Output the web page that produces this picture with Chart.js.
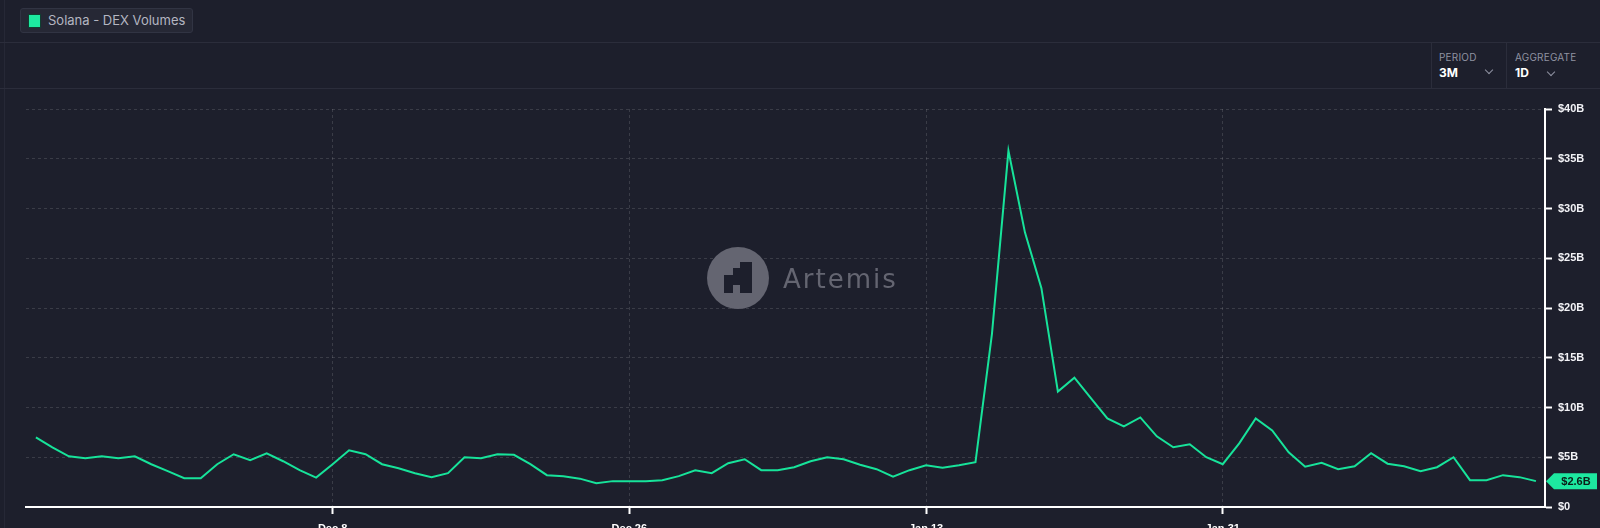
<!DOCTYPE html>
<html>
<head>
<meta charset="utf-8">
<script src="https://cdn.jsdelivr.net/npm/chart.js@4.4.1/dist/chart.umd.min.js"></script>
<style>
  html, body { margin: 0; padding: 0; background: #1d1f2c; }
  body { width: 1600px; height: 528px; position: relative; overflow: hidden; font-family: "Inter", "Liberation Sans", sans-serif; }
  .hline { position: absolute; left: 0; width: 1600px; height: 1px; background: #2b2d3b; }
  .vline { position: absolute; width: 1px; background: #2b2d3b; }
  .legend { position: absolute; left: 20px; top: 8px; width: 171px; height: 23px; background: #262835; border: 1px solid #313443; border-radius: 3px; }
  .legend .sw { position: absolute; left: 7px; top: 5px; width: 11px; height: 12px; background: #1de9a0; border: 1px solid #0f3f31; }
  .legend .tx { position: absolute; left: 27px; top: 3px; font-size: 13px; color: #b4b6c1; white-space: nowrap; }
  .ctl-label { position: absolute; font-size: 10px; color: #8f92a1; letter-spacing: 0.2px; }
  .ctl-value { position: absolute; font-size: 12px; font-weight: 700; color: #ffffff; }
  .chev { position: absolute; width: 5px; height: 5px; border-right: 1.5px solid #8f92a1; border-bottom: 1.5px solid #8f92a1; transform: rotate(45deg); }
  #wrap { position: absolute; left: 0; top: 88px; width: 1600px; height: 440px; }
</style>
</head>
<body>
<div class="vline" style="left:4px;top:0;height:528px;background:#262836"></div>
<div class="hline" style="top:42px"></div>
<div class="hline" style="top:88px"></div>
<div class="vline" style="left:1431px;top:42px;height:46px"></div>
<div class="vline" style="left:1506px;top:42px;height:46px"></div>

<div class="legend"><div class="sw"></div><div class="tx">Solana - DEX Volumes</div></div>

<div class="ctl-label" style="left:1439px;top:51px">PERIOD</div>
<div class="ctl-value" style="left:1439px;top:65px">3M</div>
<div class="chev" style="left:1486px;top:67px"></div>
<div class="ctl-label" style="left:1515px;top:51px">AGGREGATE</div>
<div class="ctl-value" style="left:1515px;top:65px">1D</div>
<div class="chev" style="left:1548px;top:69px"></div>

<div id="wrap"><canvas id="chart"></canvas></div>

<script>
// daily Solana DEX volume, $B, Nov 20 2024 -> Feb 19 2025
const firstDay = "2024-11-20";
const volumes = [
  7.0, 6.0, 5.1, 4.9, 5.1, 4.9, 5.1, 4.3, 3.6, 2.9,
  2.9, 4.3, 5.3, 4.7, 5.4, 4.6, 3.7, 2.95, 4.3, 5.7,
  5.3, 4.3, 3.9, 3.4, 3.0, 3.4, 5.0, 4.9, 5.3, 5.25,
  4.3, 3.2, 3.1, 2.85, 2.4, 2.6, 2.6, 2.6, 2.7, 3.1,
  3.7, 3.4, 4.4, 4.8, 3.7, 3.7, 4.0, 4.6, 5.0, 4.8,
  4.25, 3.8, 3.05, 3.7, 4.2, 3.95, 4.2, 4.5, 17.4, 35.8,
  27.6, 22.0, 11.6, 13.0, 10.95, 8.9, 8.1, 9.0, 7.1, 6.0,
  6.3, 5.0, 4.3, 6.4, 8.9, 7.7, 5.5, 4.05, 4.45, 3.8,
  4.1, 5.4, 4.35, 4.1, 3.6, 4.0, 5.0, 2.7, 2.7, 3.2,
  3.0, 2.6
];
const tickDays = [18, 36, 54, 72];
const tickLabels = ["Dec 8", "Dec 26", "Jan 13", "Jan 31"];
const yTicks = [0, 5, 10, 15, 20, 25, 30, 35, 40];

const lineColor = "#17e39a";

const points = volumes.map((v, i) => ({ x: i, y: v }));

// watermark + last value tag
const extras = {
  id: "extras",
  beforeDatasetsDraw(chart) {
    const ctx = chart.ctx;
    const cx = 738, cy = 278 - 88;
    ctx.save();
    ctx.fillStyle = "#646571";
    ctx.beginPath();
    ctx.arc(cx, cy, 31, 0, Math.PI * 2);
    ctx.fill();
    ctx.fillStyle = "#1d1f2c";
    ctx.fillRect(cx - 14, cy - 3, 28, 10);
    ctx.fillRect(cx - 14, cy + 7, 9, 8);
    ctx.fillRect(cx + 2, cy - 16, 12, 31);
    ctx.fillRect(cx - 5, cy - 10, 7, 7);
    ctx.fillStyle = "#646571";
    ctx.font = "26px 'DejaVu Sans', sans-serif";
    ctx.textBaseline = "alphabetic";
    if (ctx.letterSpacing !== undefined) ctx.letterSpacing = "2px";
    ctx.fillText("Artemis", 783, 288 - 88);
    ctx.restore();
  },
  afterDraw(chart) {
    const ctx = chart.ctx;
    const y = chart.scales.y.getPixelForValue(volumes[volumes.length - 1]);
    const x0 = chart.chartArea.right + 1;
    ctx.save();
    ctx.fillStyle = "#1de9a0";
    ctx.beginPath();
    ctx.moveTo(x0, y);
    ctx.lineTo(x0 + 8, y - 8);
    ctx.lineTo(x0 + 51, y - 8);
    ctx.lineTo(x0 + 51, y + 8);
    ctx.lineTo(x0 + 8, y + 8);
    ctx.closePath();
    ctx.fill();
    ctx.fillStyle = "#0c1f18";
    ctx.font = "bold 11px 'Liberation Sans', sans-serif";
    ctx.textAlign = "center";
    ctx.textBaseline = "middle";
    ctx.fillText("$" + volumes[volumes.length - 1] + "B", x0 + 30, y + 1);
    ctx.restore();
  }
};

new Chart(document.getElementById("chart"), {
  type: "line",
  data: {
    datasets: [{
      label: "Solana - DEX Volumes",
      data: points,
      borderColor: lineColor,
      borderWidth: 2,
      pointRadius: 0,
      tension: 0,
      fill: false
    }]
  },
  options: {
    responsive: true,
    maintainAspectRatio: false,
    animation: false,
    layout: { padding: { left: 26, top: 21, right: 0, bottom: 0 } },
    plugins: { legend: { display: false }, tooltip: { enabled: false } },
    scales: {
      x: {
        type: "linear",
        min: -0.6,
        max: 91.55,
        afterBuildTicks: (scale) => { scale.ticks = tickDays.map(v => ({ value: v })); },
        afterFit: (scale) => { scale.height = 21; },
        grid: {
          color: "rgba(255,255,255,0.13)",
          drawTicks: true,
          tickLength: 7,
          tickColor: "#ffffff",
          tickWidth: 2
        },
        border: { display: true, color: "#ffffff", width: 2, dash: [3, 3] },
        ticks: {
          autoSkip: false,
          maxRotation: 0,
          padding: 8,
          color: "#ffffff",
          font: { family: "'Liberation Sans', sans-serif", size: 11, weight: "bold" },
          callback: (v) => tickLabels[tickDays.indexOf(v)] || ""
        }
      },
      y: {
        position: "right",
        min: 0,
        max: 40,
        afterBuildTicks: (scale) => { scale.ticks = yTicks.map(v => ({ value: v })); },
        afterFit: (scale) => { scale.width = 55; },
        grid: {
          color: "rgba(255,255,255,0.13)",
          drawTicks: true,
          tickLength: 7,
          tickColor: "#ffffff",
          tickWidth: 2
        },
        border: { display: true, color: "#ffffff", width: 2, dash: [3, 3] },
        ticks: {
          padding: 6,
          color: "#f2f2f6",
          font: { family: "'Liberation Sans', sans-serif", size: 11, weight: "bold" },
          callback: (v) => v === 0 ? "$0" : "$" + v + "B"
        }
      }
    }
  },
  plugins: [extras]
});
</script>
</body>
</html>
